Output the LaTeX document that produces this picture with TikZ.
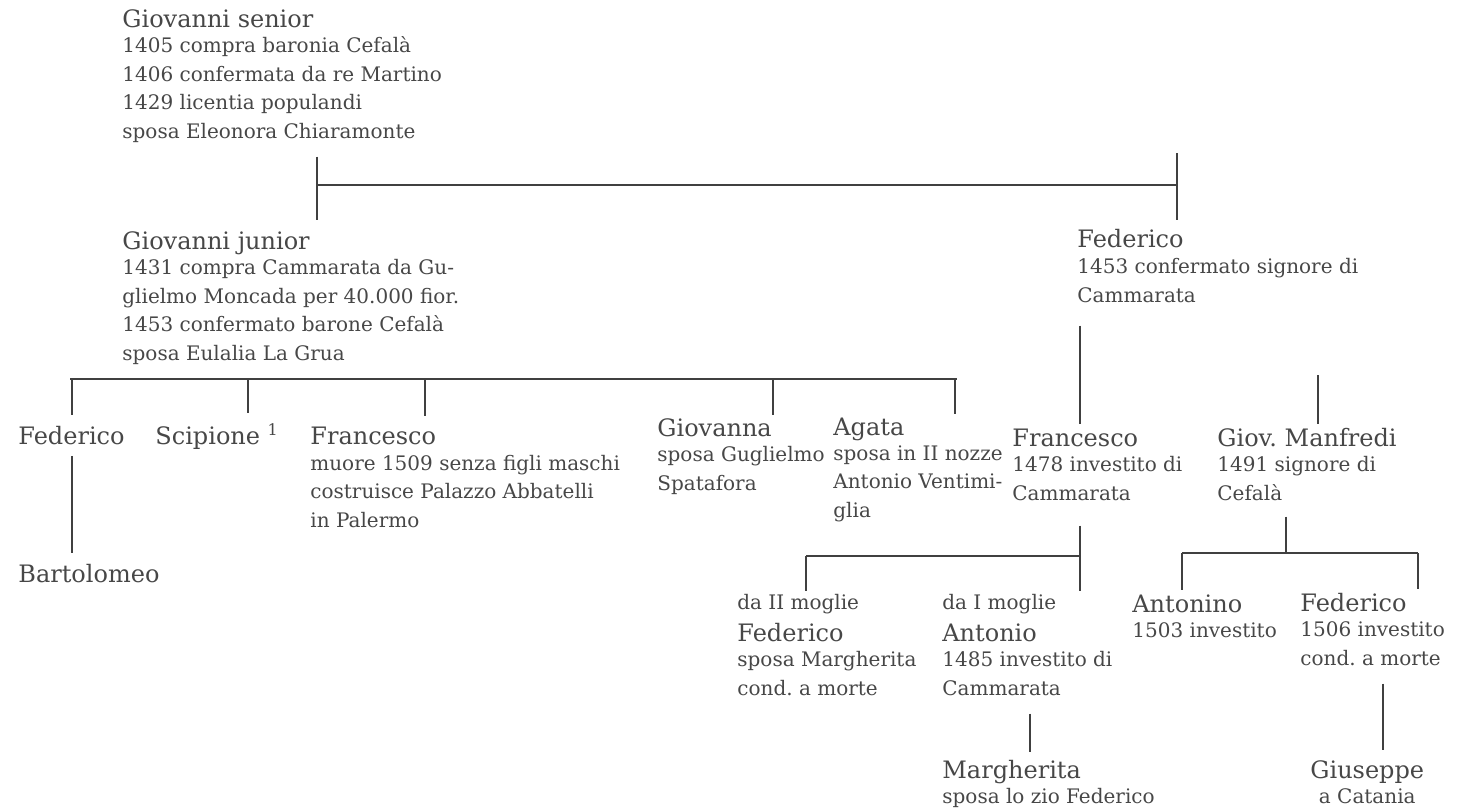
\documentclass[tikz,border=0pt]{standalone}
\usepackage{fontspec}
\setmainfont{DejaVu Serif}

% names are set a little larger than the notes under them
\newcommand{\pname}[1]{{\fontsize{12}{14}\selectfont #1}}

\begin{document}
\begin{tikzpicture}[x=0.5pt, y=-0.5pt,
    person/.style={anchor=base west, inner sep=0pt, align=left, text=black!72,
                   font=\fontsize{10}{14.2}\selectfont},
    line/.style={draw=black!75, line width=1.1pt}]

    \useasboundingbox (0,0) rectangle (1458,811);

    % nodes sit on the baseline of their last line

    % Giovanni senior
    \node[person] (gsen) at (122,138) {\pname{Giovanni senior}\\[-1.7pt]
        1405 compra baronia Cefalà\\ 1406 confermata da re Martino\\
        1429 licentia populandi\\ sposa Eleonora Chiaramonte};

    % his sons
    \node[person] (gjun) at (122,360) {\pname{Giovanni junior}\\[-1.7pt]
        1431 compra Cammarata da Gu-\\ glielmo Moncada per 40.000 fior.\\
        1453 confermato barone Cefalà\\ sposa Eulalia La Grua};
    \node[person] (fed) at (1077,302) {\pname{Federico}\\[-1.2pt]
        1453 confermato signore di\\ Cammarata};

    % children of Giovanni junior
    \node[person] (fedA) at (18,444) {\pname{Federico}};
    \node[person] (scip) at (155,444) {\pname{Scipione \textsuperscript{1}}};
    \node[person] (fraA) at (310,527) {\pname{Francesco}\\[-1.2pt]
        muore 1509 senza figli maschi\\ costruisce Palazzo Abbatelli\\ in Palermo};
    \node[person] (giov) at (657,490) {\pname{Giovanna}\\[-1.7pt]
        sposa Guglielmo\\ Spatafora};
    \node[person] (agata) at (833,517) {\pname{Agata}\\[-1.7pt]
        sposa in II nozze\\ Antonio Ventimi-\\ glia};
    \node[person] (bart) at (18,582) {\pname{Bartolomeo}};

    % children of Federico
    \node[person] (fraB) at (1012,500) {\pname{Francesco}\\[-1.7pt]
        1478 investito di\\ Cammarata};
    \node[person] (manf) at (1217,500) {\pname{Giov.\ Manfredi}\\[-1.7pt]
        1491 signore di\\ Cefalà};

    % children of Francesco
    \node[person] (fedB) at (737,695) {da II moglie\\[1.8pt] \pname{Federico}\\[-1.7pt]
        sposa Margherita\\ cond.\ a morte};
    \node[person] (anto) at (942,695) {da I moglie\\[1.8pt] \pname{Antonio}\\[-1.7pt]
        1485 investito di\\ Cammarata};
    \node[person] (marg) at (942,803) {\pname{Margherita}\\[-1.7pt]
        sposa lo zio Federico};

    % children of Giov. Manfredi
    \node[person] (antn) at (1132,637) {\pname{Antonino}\\[-1.7pt] 1503 investito};
    \node[person] (fedC) at (1300,665) {\pname{Federico}\\[-1.7pt]
        1506 investito\\ cond.\ a morte};
    \node[person, align=center] (gius) at (1310,803) {\pname{Giuseppe}\\[-1.7pt] a Catania};

    % Giovanni senior -> Giovanni junior, Federico
    \coordinate (s1) at (317,185);
    \coordinate (s2) at (1177,185);
    \draw[line] (s1) -- (s2);
    \draw[line, shorten <=7pt, shorten >=6pt] (gsen.south -| s1) -- (gjun.north -| s1);
    \draw[line, shorten >=4.4pt] ([yshift=16pt]s2) -- (fed.north -| s2);

    % Giovanni junior -> children
    \coordinate (t0) at (70,379);
    \coordinate (t5) at (957,379);
    \draw[line] (t0) -- (t5);
    \foreach \c/\x/\g in {fedA/72/5, scip/248/5, fraA/425/5, giov/773/1.5, agata/955/1.5} {
        \coordinate (t\c) at (\x,379);
        \draw[line, shorten >=\g pt] (t\c) -- (\c.north -| t\c);
    }
    \draw[line, shorten <=5.5pt, shorten >=5.4pt] (fedA.south -| tfedA) -- (bart.north -| tfedA);

    % Federico -> Francesco, Giov. Manfredi
    \coordinate (u0) at (806,556);
    \coordinate (u1) at (1080,556);
    \coordinate (v0) at (1318,375);
    \draw[line, shorten <=11.5pt, shorten >=2.2pt] (fed.south -| u1) -- (fraB.north -| u1);
    \draw[line, shorten >=1.9pt] (v0) -- (manf.north -| v0);

    % Francesco -> Federico, Antonio
    \draw[line] (u0) -- (u1);
    \draw[line, shorten <=12.5pt, shorten >=1.4pt] (fraB.south -| u1) -- (anto.north -| u1);
    \draw[line, shorten >=1.4pt] (u0) -- (fedB.north -| u0);

    % Antonio -> Margherita
    \coordinate (w0) at (1030,713);
    \draw[line, shorten <=9pt, shorten >=3.9pt] (anto.south -| w0) -- (marg.north -| w0);

    % Giov. Manfredi -> Antonino, Federico
    \coordinate (x0) at (1182,553);
    \coordinate (x1) at (1286,553);
    \coordinate (x2) at (1418,553);
    \draw[line] (x0) -- (x2);
    \draw[line, shorten <=8pt] (manf.south -| x1) -- (x1);
    \draw[line, shorten >=1.9pt] (x0) -- (antn.north -| x0);
    \draw[line, shorten >=1.9pt] (x2) -- (fedC.north -| x2);

    % Federico -> Giuseppe
    \coordinate (y0) at (1383,683);
    \draw[line, shorten <=9pt, shorten >=4.9pt] (fedC.south -| y0) -- (gius.north -| y0);
\end{tikzpicture}
\end{document}
